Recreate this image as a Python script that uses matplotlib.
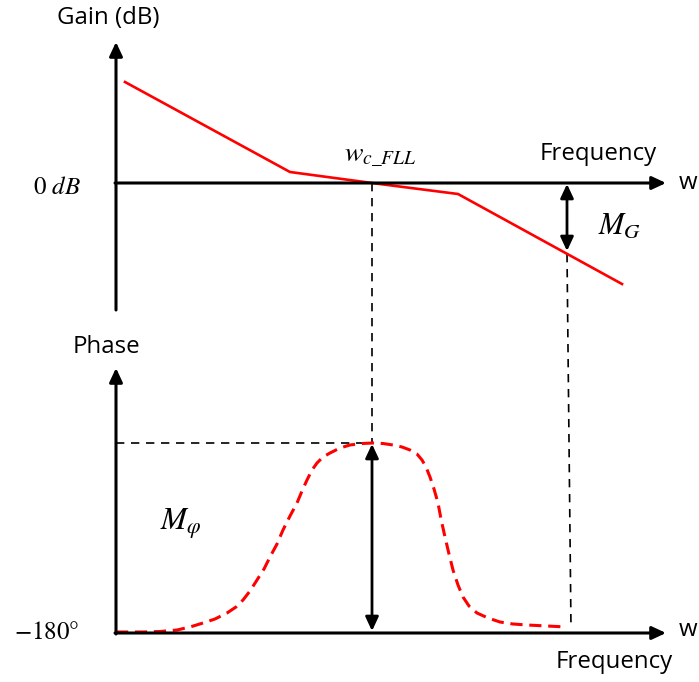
import matplotlib
matplotlib.use("Agg")
import matplotlib.pyplot as plt

# ---- data (drawing coordinates: x to the right, y downward, as in the sketch) ----
gain_x = [125, 290, 372, 458, 622]
gain_y = [82, 172, 183, 194, 284]

phase_x = [116, 143, 160, 177, 190, 203, 215, 227, 236, 243, 250, 257, 264, 270, 277, 283, 290, 297, 302, 307,
           312, 317, 323, 330, 340, 350, 362, 373,
           383, 393, 402, 410, 417, 422, 426, 430, 434, 438, 441, 445, 449, 453, 458, 463, 469, 477, 488,
           500, 513, 527, 547, 567]
phase_y = [632, 632, 631.5, 630, 627, 623, 619, 613, 607, 600, 591, 580, 569, 557, 544, 530, 516, 503, 491, 480,
           470, 463, 457, 453, 448, 445, 443.5, 443,
           443.5, 445, 447, 450, 454, 460, 467, 477, 489, 503, 519, 537, 554, 570, 585, 597, 606, 613, 618,
           622, 624, 625, 626, 627]

origin_x = 116
gain_axis_y = 183
phase_axis_y = 633
wc_x = 372
pm_y = 443
gm_x = 567
gm_y = 251

fig = plt.figure(figsize=(6.99, 6.82), dpi=100)
ax = fig.add_axes([0, 0, 1, 1])
ax.set_xlim(0, 699)
ax.set_ylim(682, 0)
ax.axis("off")
plt.rcParams["mathtext.fontset"] = "stix"

def arrow(x0, y0, x1, y1, style="-|>", lw=2.2, ms=14):
    ax.annotate("", xy=(x1, y1), xytext=(x0, y0),
                arrowprops=dict(arrowstyle=style + ",head_length=0.6,head_width=0.28",
                                lw=lw, color="black", shrinkA=0, shrinkB=0,
                                mutation_scale=ms))

# axes of the gain plot
arrow(origin_x, 310, origin_x, 42)
arrow(origin_x - 1, gain_axis_y, 666, gain_axis_y)

# axes of the phase plot
arrow(origin_x, phase_axis_y + 1, origin_x, 368)
arrow(origin_x - 1, phase_axis_y, 666, phase_axis_y)

# dashed guide lines
ax.plot([wc_x, wc_x], [gain_axis_y, pm_y], color="black", lw=1.2, ls=(0, (5, 4)))
ax.plot([origin_x, wc_x], [pm_y, pm_y], color="black", lw=1.2, ls=(0, (5, 4)))
ax.plot([gm_x, 571], [gm_y + 3, 628], color="black", lw=1.2, ls=(0, (5, 4)))

# gain curve
ax.plot(gain_x, gain_y, color="#ff0000", lw=1.9, solid_joinstyle="miter")

# phase curve
ax.plot(phase_x, phase_y, color="#ff0000", lw=2.2, ls=(0, (4, 2.2)))

# margins
arrow(gm_x, gain_axis_y + 1, gm_x, gm_y, style="<|-|>", lw=2.0, ms=14)
arrow(wc_x, pm_y + 1, wc_x, phase_axis_y - 2, style="<|-|>", lw=2.0, ms=14)

# texts
sans = ["Open Sans", "DejaVu Sans"]
fs = 17.3
ax.text(108, 18, "Gain (dB)", fontsize=fs, family=sans, ha="center", va="center")
ax.text(106, 347, "Phase", fontsize=fs, family=sans, ha="center", va="center")
ax.text(598, 154, "Frequency", fontsize=fs, family=sans, ha="center", va="center")
ax.text(614, 662, "Frequency", fontsize=fs, family=sans, ha="center", va="center")
ax.text(679, 183, "w", fontsize=fs, family=sans, ha="left", va="center")
ax.text(679, 630, "w", fontsize=fs, family=sans, ha="left", va="center")

ax.text(57, 187, r"$0\ dB$", fontsize=18, ha="center", va="center")
ax.text(47, 632, r"$-180°$", fontsize=18, ha="center", va="center")
ax.text(380, 155, r"$w_{c\_FLL}$", fontsize=20, ha="center", va="center")
ax.text(598, 226, r"$M_G$", fontsize=22, ha="left", va="center")
ax.text(160, 525, r"$M_\varphi$", fontsize=22.5, ha="left", va="center")

fig.savefig("out.png", dpi=100)
